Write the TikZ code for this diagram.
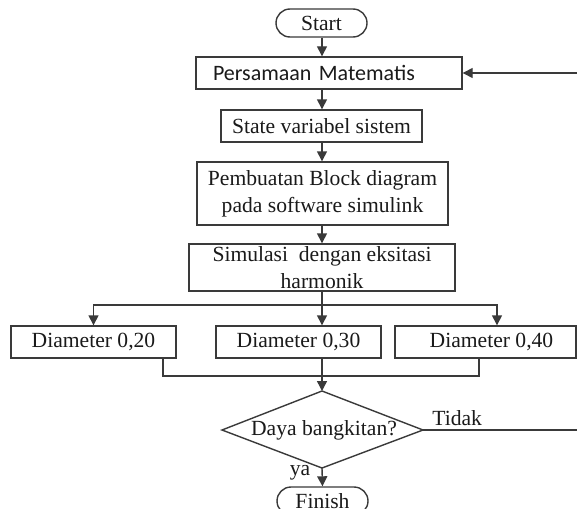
\documentclass[tikz,border=0pt]{standalone}
\usepackage{fontspec}
\setmainfont{Liberation Serif}
\newfontfamily\calib{Carlito}
\usetikzlibrary{arrows.meta}
\definecolor{lc}{HTML}{3A3A3A}
\definecolor{tc}{HTML}{1A1A1A}
\begin{document}
\begin{tikzpicture}[x=0.5pt,y=-0.5pt,
  box/.style={draw=lc, line width=0.7pt, inner sep=0pt, align=center, text=tc,
    font=\fontsize{10.8}{13.5}\selectfont},
  term/.style={box, rounded corners=7pt, minimum width=45.5pt, minimum height=14pt},
  arr/.style={draw=lc, line width=0.7pt, -{Triangle[length=5pt,width=5pt]}},
  ln/.style={draw=lc, line width=0.7pt},
  lab/.style={text=tc, inner sep=1pt, font=\fontsize{10.8}{13}\selectfont}]
\useasboundingbox (0,0) rectangle (577,508);
\clip (0,0) rectangle (577,508);
\fill[white] (0,0) rectangle (577,508);

\node[term] (start) at (321.5,23) {Start};
\node[box, minimum height=16pt, text width=116pt, inner xsep=8.5pt, align=left,
  font=\calib\fontsize{11}{13}\selectfont] (pers) at (329,73) {Persamaan Matematis};
\node[box, minimum width=100.5pt, minimum height=16pt] (state) at (321.5,126) {State variabel sistem};
\node[box, minimum width=125.5pt, minimum height=31.5pt] (pemb) at (322.5,193.5) {Pembuatan Block diagram\\pada software simulink};
\node[box, minimum width=133pt, minimum height=23.5pt] (sim) at (322,267.5) {Simulasi\ \ dengan eksitasi\\harmonik};
\node[box, minimum width=82.5pt, minimum height=16pt] (d1) at (93.5,342) {Diameter 0,20};
\node[box, minimum width=82.5pt, minimum height=16pt] (d2) at (298.5,342) {Diameter 0,30};
\node[box, minimum width=90.5pt, minimum height=16pt] (d3) at (485.5,342) {\hspace*{6pt}Diameter 0,40};

\coordinate (dT) at (322,391);
\coordinate (dB) at (322,468);
\coordinate (dL) at (222,430);
\coordinate (dR) at (423,430);
\draw[ln] (dT) -- (dR) -- (dB) -- (dL) -- cycle;
\node[lab] (dec) at (324,430) {Daya bangkitan?};
\node[term] (fin) at (322.5,501) {Finish};

\coordinate (edge) at (580,0);
\coordinate (br) at (322,305);
\coordinate (a3) at (497,305);
\coordinate (m1) at (163,376);
\coordinate (m3) at (479,376);

\draw[arr] (start.south -| dT) -- (pers.north -| dT);
\draw[arr] (pers.east -| edge) -- (pers.east);
\draw[arr] (pers.south -| dT) -- (state.north -| dT);
\draw[arr] (state.south -| dT) -- (pemb.north -| dT);
\draw[arr] (pemb.south -| dT) -- (sim.north -| dT);
\draw[arr] (sim.south -| dT) -- (d2.north -| dT);
\draw[arr] (br) -| (d1.north);
\draw[arr] (br) -- (a3) -- (a3 |- d3.north);
\draw[ln] (d1.south -| m1) -- (m1) -- (m3) -- (d3.south -| m3);
\draw[arr] (d2.south -| dT) -- (dT);
\draw[ln] (dR) -- (dR -| edge);
\node[lab, anchor=south west] (tidak) at (430,428) {Tidak};
\draw[arr] (dB) -- (fin.north);
\node[lab] (ya) at (300,473) {ya};
\end{tikzpicture}
\end{document}
